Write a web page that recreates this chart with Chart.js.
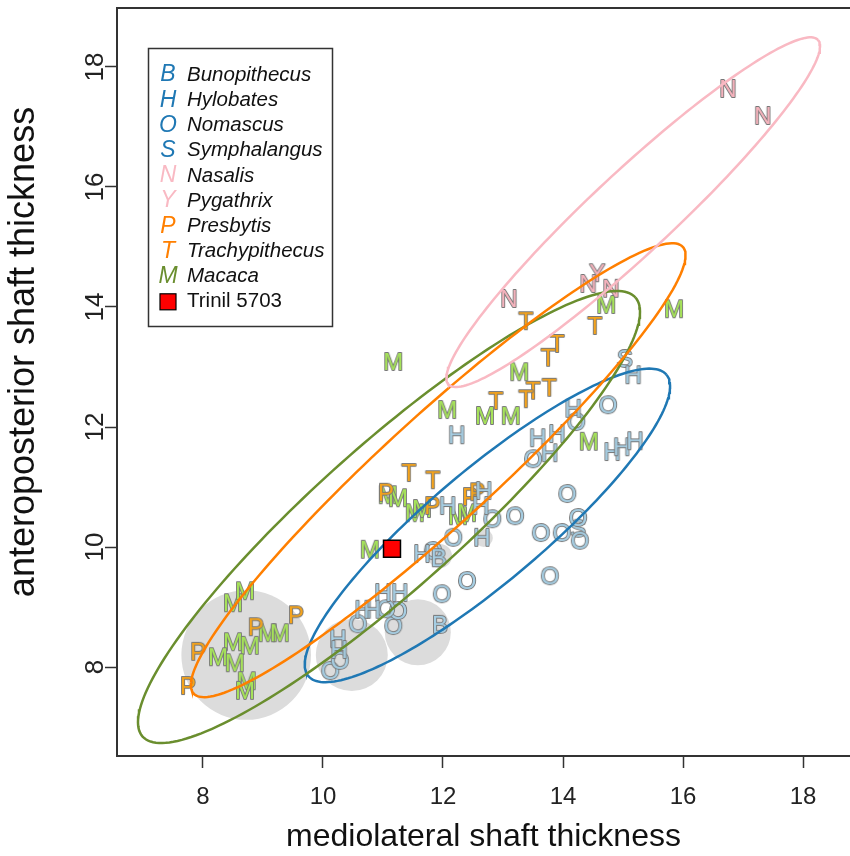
<!DOCTYPE html>
<html>
<head>
<meta charset="utf-8">
<script src="https://cdn.jsdelivr.net/npm/chart.js@4.4.0/dist/chart.umd.min.js"></script>
<style>
  html, body { margin: 0; padding: 0; background: #fff; }
</style>
</head>
<body>
<canvas id="chart" width="850" height="856"></canvas>
<script>
// values: [mediolateral, anteroposterior]
var xTicks = [8, 10, 12, 14, 16, 18];
var yTicks = [8, 10, 12, 14, 16, 18];

var bunopithecus = [[11.93, 9.83], [11.95, 8.72]];
var hylobates = [[12.23, 11.88], [15.17, 12.88], [14.17, 12.32], [13.58, 11.83], [13.9, 11.9],
  [13.78, 11.58], [14.82, 11.6], [14.98, 11.68], [15.2, 11.78], [12.68, 10.95], [12.08, 10.7],
  [12.63, 10.7], [12.65, 10.17], [11.65, 9.9], [11.0, 9.25], [11.28, 9.25], [10.67, 8.97],
  [10.82, 8.97], [10.25, 8.48], [10.27, 8.3]];
var nomascus = [[14.75, 12.38], [14.22, 12.1], [13.5, 11.48], [14.07, 10.9], [12.82, 10.48],
  [13.2, 10.53], [13.63, 10.25], [13.98, 10.25], [14.25, 10.5], [14.28, 10.12], [12.17, 10.17],
  [12.4, 9.45], [11.98, 9.23], [13.78, 9.53], [11.83, 9.95], [10.58, 8.73], [11.17, 8.7],
  [11.25, 8.95], [10.12, 7.95], [10.28, 8.12], [11.05, 8.98]];
var symphalangus = [[15.03, 13.15], [14.25, 10.32]];
var nasalis = [[16.75, 17.65], [17.33, 17.2], [13.1, 14.15], [14.42, 14.4], [14.8, 14.32]];
var pygathrix = [[14.57, 14.58]];
var presbytis = [[9.55, 8.88], [8.88, 8.68], [7.92, 8.27], [7.75, 7.7], [11.05, 10.92],
  [11.82, 10.7], [12.45, 10.85], [12.57, 10.93]];
var trachypithecus = [[13.38, 13.78], [14.53, 13.7], [13.9, 13.4], [13.75, 13.17], [13.77, 12.67],
  [13.5, 12.62], [13.38, 12.48], [12.88, 12.45], [11.43, 11.25], [11.83, 11.13]];
var macaca = [[11.17, 13.1], [13.27, 12.93], [12.07, 12.3], [12.7, 12.2], [13.13, 12.2],
  [14.43, 11.77], [14.72, 14.05], [15.85, 13.98], [11.08, 10.88], [11.25, 10.83], [11.53, 10.58],
  [11.65, 10.65], [12.25, 10.53], [12.4, 10.58], [10.78, 9.97], [8.5, 9.08], [8.7, 9.28],
  [9.08, 8.58], [9.28, 8.58], [8.5, 8.43], [8.78, 8.37], [8.25, 8.18], [8.53, 8.08],
  [8.73, 7.78], [8.7, 7.62]];
var trinil = [[11.15, 9.97]];

// grey discs: [x, y, radius in data units]
var greyDiscs = [[8.72, 8.2, 1.08], [10.48, 8.2, 0.6], [11.58, 8.58, 0.55], [12.68, 10.15, 0.15], [11.95, 9.85, 0.2]];

// ellipses: [cx, cy, semi-major, semi-minor, angle in degrees]
var nasalisEllipse = [15.17, 15.58, 4.21, 0.68, 43];
var colobineEllipse = [11.92, 11.28, 5.52, 0.91, 42.4];
var macacaEllipse = [11.1, 10.5, 5.5, 1.2, 41.7];
var hylobatidEllipse = [12.74, 10.36, 3.9, 0.94, 40.1];

var BLUE = '#1f78b4', PINK = '#f9b9c3', ORANGE = '#ff7f00', GREEN = '#6a8e2e';
var FONT = '"Liberation Sans", Arial, sans-serif';

function pts(arr) {
  return arr.map(function (p) { return { x: p[0], y: p[1] }; });
}

function ellipse(e) {
  var t = e[4] * Math.PI / 180, out = [];
  for (var i = 0; i <= 200; i++) {
    var s = i / 200 * 2 * Math.PI;
    out.push({
      x: e[0] + e[2] * Math.cos(s) * Math.cos(t) - e[3] * Math.sin(s) * Math.sin(t),
      y: e[1] + e[2] * Math.cos(s) * Math.sin(t) + e[3] * Math.sin(s) * Math.cos(t)
    });
  }
  return out;
}

function letterIcon(ch, fill) {
  var c = document.createElement('canvas');
  c.width = 34; c.height = 34;
  var g = c.getContext('2d');
  g.font = '24px ' + FONT;
  g.textAlign = 'center';
  g.textBaseline = 'alphabetic';
  g.lineJoin = 'round';
  g.lineWidth = 1.8;
  g.strokeStyle = '#777';
  g.strokeText(ch, 17, 25.6);
  g.fillStyle = fill;
  g.fillText(ch, 17, 25.6);
  return c;
}

function letterSet(label, arr, ch, fill) {
  return {
    label: label, data: pts(arr), order: 2,
    pointStyle: letterIcon(ch, fill), pointRadius: 10, pointHoverRadius: 10
  };
}

function ellipseSet(e, color) {
  return {
    data: ellipse(e), order: 1, showLine: true, fill: false, tension: 0,
    borderColor: color, borderWidth: 2.5, pointRadius: 0, pointHoverRadius: 0
  };
}

var legendRows = [
  ['B', 'Bunopithecus', BLUE], ['H', 'Hylobates', BLUE], ['O', 'Nomascus', BLUE],
  ['S', 'Symphalangus', BLUE], ['N', 'Nasalis', PINK], ['Y', 'Pygathrix', PINK],
  ['P', 'Presbytis', ORANGE], ['T', 'Trachypithecus', ORANGE], ['M', 'Macaca', GREEN]
];

var decor = {
  id: 'decor',
  beforeDatasetsDraw: function (chart) {
    var ctx = chart.ctx, xs = chart.scales.x, ys = chart.scales.y, a = chart.chartArea;
    ctx.save();
    ctx.beginPath();
    ctx.rect(a.left, a.top, a.right - a.left, a.bottom - a.top);
    ctx.clip();
    ctx.fillStyle = '#dcdcdc';
    greyDiscs.forEach(function (d) {
      var px = xs.getPixelForValue(d[0]), py = ys.getPixelForValue(d[1]);
      var r = Math.abs(xs.getPixelForValue(d[0] + d[2]) - px);
      ctx.beginPath();
      ctx.arc(px, py, r, 0, 2 * Math.PI);
      ctx.fill();
    });
    ctx.restore();
  },
  afterDraw: function (chart) {
    var ctx = chart.ctx, ys = chart.scales.y, a = chart.chartArea;
    ctx.save();
    // plot frame
    ctx.strokeStyle = '#333';
    ctx.lineWidth = 2;
    ctx.beginPath();
    ctx.moveTo(chart.width, a.top);
    ctx.lineTo(a.left, a.top);
    ctx.lineTo(a.left, a.bottom);
    ctx.lineTo(chart.width, a.bottom);
    ctx.stroke();
    // y tick labels and title, rotated like the original
    ctx.fillStyle = '#222';
    ctx.font = '26px ' + FONT;
    ctx.textAlign = 'center';
    ctx.textBaseline = 'middle';
    yTicks.forEach(function (v) {
      ctx.save();
      ctx.translate(96, ys.getPixelForValue(v));
      ctx.rotate(-Math.PI / 2);
      ctx.fillText(String(v), 0, 0);
      ctx.restore();
    });
    ctx.save();
    ctx.fillStyle = '#111';
    ctx.font = '36px ' + FONT;
    ctx.translate(24, ys.getPixelForValue(13.25));
    ctx.rotate(-Math.PI / 2);
    ctx.fillText('anteroposterior shaft thickness', 0, 0);
    ctx.restore();
    // legend
    ctx.fillStyle = '#fff';
    ctx.fillRect(148, 48, 185, 279);
    ctx.lineWidth = 1.5;
    ctx.strokeStyle = '#333';
    ctx.strokeRect(148.5, 48.5, 184, 278);
    legendRows.forEach(function (r, i) {
      var y = 75 + i * 25.2;
      ctx.font = 'italic 23px ' + FONT;
      ctx.fillStyle = r[2];
      ctx.textAlign = 'center';
      ctx.fillText(r[0], 168, y);
      ctx.font = 'italic 20.5px ' + FONT;
      ctx.fillStyle = '#111';
      ctx.textAlign = 'left';
      ctx.fillText(r[1], 187, y);
    });
    var ty = 75 + 9 * 25.2;
    ctx.fillStyle = '#ff0000';
    ctx.fillRect(160, ty - 8, 16, 16);
    ctx.lineWidth = 1.2;
    ctx.strokeStyle = '#000';
    ctx.strokeRect(160, ty - 8, 16, 16);
    ctx.font = '20.5px ' + FONT;
    ctx.fillStyle = '#111';
    ctx.fillText('Trinil 5703', 187, ty);
    ctx.restore();
  }
};

var ctx = document.getElementById('chart').getContext('2d');
var myChart = new Chart(ctx, {
  type: 'scatter',
  data: {
    datasets: [
      ellipseSet(nasalisEllipse, PINK),
      ellipseSet(colobineEllipse, ORANGE),
      ellipseSet(macacaEllipse, GREEN),
      ellipseSet(hylobatidEllipse, BLUE),
      letterSet('Bunopithecus', bunopithecus, 'B', '#a6cee3'),
      letterSet('Hylobates', hylobates, 'H', '#a6cee3'),
      letterSet('Nomascus', nomascus, 'O', '#a6cee3'),
      letterSet('Symphalangus', symphalangus, 'S', '#a6cee3'),
      letterSet('Nasalis', nasalis, 'N', '#f6b3bd'),
      letterSet('Pygathrix', pygathrix, 'Y', '#f6b3bd'),
      letterSet('Presbytis', presbytis, 'P', '#f4a31c'),
      letterSet('Trachypithecus', trachypithecus, 'T', '#f4a31c'),
      letterSet('Macaca', macaca, 'M', '#a6e35a'),
      {
        label: 'Trinil 5703', data: pts(trinil), order: 0,
        pointStyle: 'rect', pointRadius: 12, pointHoverRadius: 12,
        backgroundColor: '#ff0000', borderColor: '#000', pointBorderWidth: 1.5
      }
    ]
  },
  options: {
    responsive: false,
    animation: false,
    events: [],
    layout: { autoPadding: false, padding: { top: 8, right: 0, left: 0, bottom: 0 } },
    plugins: { legend: { display: false }, tooltip: { enabled: false } },
    scales: {
      x: {
        type: 'linear', min: 6.567, max: 18.783,
        afterFit: function (s) { s.height = 100; s.paddingLeft = 0; s.paddingRight = 0; },
        afterBuildTicks: function (s) { s.ticks = xTicks.map(function (v) { return { value: v }; }); },
        border: { display: false },
        grid: { drawOnChartArea: false, drawTicks: true, tickLength: 12, color: '#333', tickWidth: 1.5 },
        ticks: { color: '#222', font: { family: FONT, size: 24 }, padding: 15, maxRotation: 0 },
        title: { display: true, text: 'mediolateral shaft thickness', color: '#111',
          font: { family: FONT, size: 32 }, padding: 0 }
      },
      y: {
        type: 'linear', min: 6.517, max: 18.983,
        afterFit: function (s) { s.width = 117; s.paddingTop = 0; s.paddingBottom = 0; },
        afterBuildTicks: function (s) { s.ticks = yTicks.map(function (v) { return { value: v }; }); },
        border: { display: false },
        grid: { drawOnChartArea: false, drawTicks: true, tickLength: 12, color: '#333', tickWidth: 1.5 },
        ticks: { display: false },
        title: { display: false }
      }
    }
  },
  plugins: [decor]
});
</script>
</body>
</html>
